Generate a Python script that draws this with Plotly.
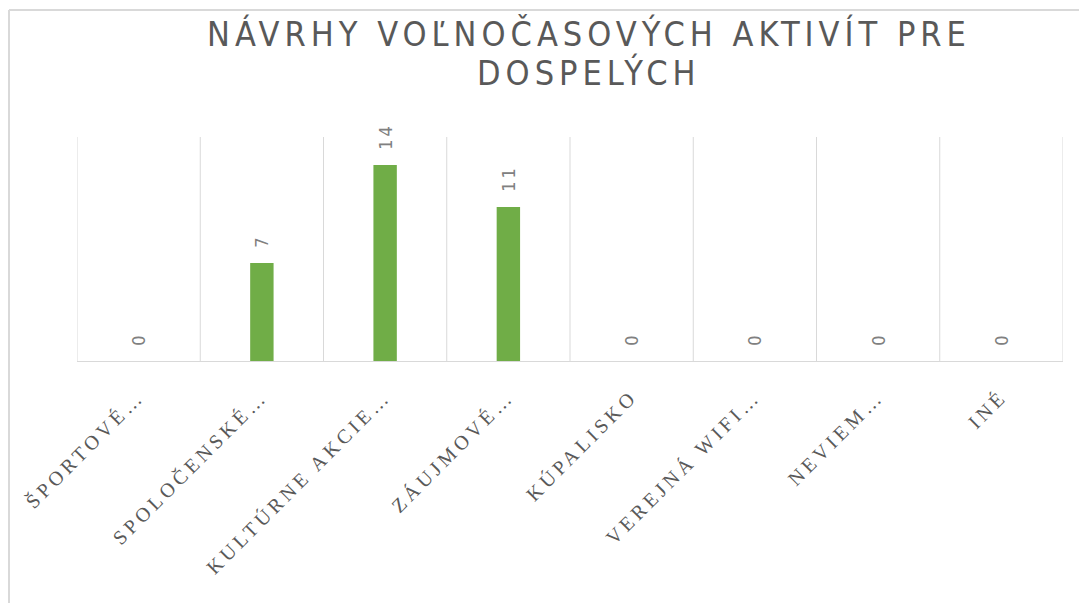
import plotly.graph_objects as go

categories = ["ŠPORTOVÉ…", "SPOLOČENSKÉ…", "KULTÚRNE AKCIE…", "ZÁUJMOVÉ…",
              "KÚPALISKO", "VEREJNÁ WIFI…", "NEVIEM…", "INÉ"]
values = [0, 7, 14, 11, 0, 0, 0, 0]
title_lines = ["NÁVRHY VOĽNOČASOVÝCH AKTIVÍT PRE", "DOSPELÝCH"]

W, H = 1079, 603
ML, MR, MT, MB = 77, 16, 137, 242
PW, PH = W - ML - MR, H - MT - MB

NARROW = "Liberation Sans Narrow, Arial Narrow, DejaVu Sans Condensed, Liberation Sans"

def px_to_paper_x(px):
    return (px - ML) / PW

def px_to_paper_y(py):
    return (H - MB - py) / PH

def spaced(s, sp):
    return f'<span style="letter-spacing:{sp}px">{s}</span>'

tick_text = [spaced(c, 4) for c in categories]
# small leading gap before each value label, then the value itself
label_text = [spaced("\u00a0", 7) + spaced(str(v), 3) for v in values]

fig = go.Figure()
fig.add_trace(go.Bar(
    x=list(range(len(categories))),
    y=values,
    marker=dict(color="#70ad47", line=dict(width=0)),
    text=label_text,
    textposition="outside",
    textangle=-90,
    constraintext="none",
    textfont=dict(family=NARROW, size=18, color="#808080"),
    cliponaxis=False,
    width=0.19,
))

# title (two centred lines)
title_y_px = [34, 73]
for line, ypx in zip(title_lines, title_y_px):
    fig.add_annotation(
        text=spaced(line, 5), xref="paper", yref="paper",
        x=px_to_paper_x(589), y=px_to_paper_y(ypx),
        xanchor="center", yanchor="middle", showarrow=False,
        font=dict(family=NARROW, size=34, color="#595959"),
    )

fig.update_layout(
    width=W, height=H,
    margin=dict(l=ML, r=MR, t=MT, b=MB, autoexpand=False),
    paper_bgcolor="white", plot_bgcolor="white",
    showlegend=False,
    xaxis=dict(
        type="linear",
        range=[-0.5, len(categories) - 0.5],
        tickmode="array",
        tickvals=list(range(len(categories))),
        ticktext=tick_text,
        tickangle=-45,
        tickfont=dict(family="Liberation Serif", size=20, color="#595959"),
        ticklabelstandoff=15,
        showgrid=False,
        showline=True, linecolor="#d9d9d9", linewidth=1,
        ticks="", zeroline=False, fixedrange=True,
    ),
    yaxis=dict(
        range=[0, 16],
        showgrid=False, showticklabels=False, zeroline=False,
        showline=False, ticks="", fixedrange=True,
    ),
)

# vertical category separators (boundaries between categories)
for b in range(len(categories) + 1):
    fig.add_shape(type="line", xref="x", yref="paper",
                  x0=b - 0.5, x1=b - 0.5, y0=0, y1=1,
                  line=dict(color="#d9d9d9", width=1), layer="below")

# chart area border (top and left visible)
fig.add_shape(type="line", xref="paper", yref="paper",
              x0=px_to_paper_x(9), x1=px_to_paper_x(W + 5),
              y0=px_to_paper_y(10), y1=px_to_paper_y(10),
              line=dict(color="#d9d9d9", width=2))
fig.add_shape(type="line", xref="paper", yref="paper",
              x0=px_to_paper_x(9), x1=px_to_paper_x(9),
              y0=px_to_paper_y(10), y1=px_to_paper_y(H + 5),
              line=dict(color="#d9d9d9", width=2))

fig.write_html(
    "out.html",
    config={"displayModeBar": False},
    post_script="document.body.style.margin='0';document.body.style.overflow='hidden';",
)
